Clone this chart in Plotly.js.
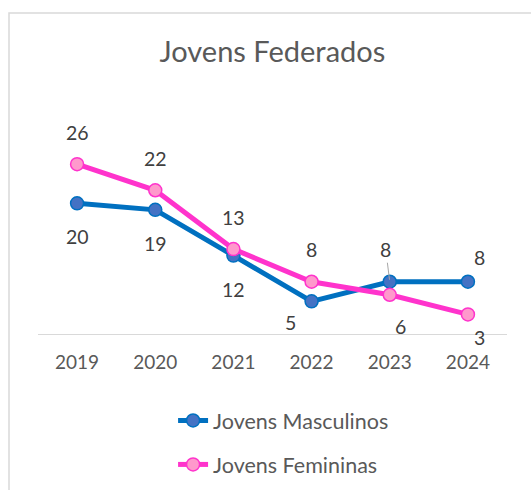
<!DOCTYPE html>
<html>
<head>
<meta charset="utf-8">
<script src="https://cdn.plot.ly/plotly-3.0.1.min.js"></script>
<style>
html,body{margin:0;padding:0;background:#fff;}
#chart{width:531px;height:490px;}
</style>
</head>
<body>
<div id="chart"></div>
<script>
const years = ["2019", "2020", "2021", "2022", "2023", "2024"];
const masculinos = [20, 19, 12, 5, 8, 8];
const femininas = [26, 22, 13, 8, 6, 3];
const seriesNames = ["Jovens Masculinos", "Jovens Femininas"];
const chartTitle = "Jovens Federados";

// label placement offsets (px) relative to each point
const mascOffsets = [[0,-33],[0,-34],[0,-34],[-21,-21],[-4,32],[12,24]];
const femOffsets = [[0,32],[0,32],[0,32],[0,32],[11,-32],[12,-23]];

const FONT = "Lato, 'Open Sans', sans-serif";

const traces = [
  {
    x: years, y: masculinos, name: seriesNames[0], type: "scatter", mode: "lines+markers",
    line: {color: "#0070C0", width: 5},
    marker: {size: 13, color: "#4472C4", line: {color: "#0070C0", width: 1.5}},
    legendgroup: "m", hoverinfo: "skip", cliponaxis: false
  },
  {
    x: years, y: femininas, name: seriesNames[1], type: "scatter", mode: "lines+markers",
    line: {color: "#FF33CC", width: 5},
    marker: {size: 13, color: "#FF99CC", line: {color: "#FF33CC", width: 1.5}},
    legendgroup: "f", hoverinfo: "skip", cliponaxis: false
  }
];

const annotations = [];
years.forEach((yr, i) => {
  const mo = mascOffsets[i];
  const a = {
    x: i, y: masculinos[i], text: String(masculinos[i]),
    font: {family: FONT, size: 19.5, color: "#404040"},
    showarrow: false, xshift: mo[0], yshift: mo[1]
  };
  if (i === 4) {
    Object.assign(a, {showarrow: true, ax: mo[0], ay: -mo[1], xshift: 0, yshift: 0,
      arrowhead: 0, arrowwidth: 1, arrowcolor: "#A6A6A6", standoff: 2});
  }
  annotations.push(a);
  const fo = femOffsets[i];
  annotations.push({
    x: i, y: femininas[i], text: String(femininas[i]),
    font: {family: FONT, size: 19.5, color: "#404040"},
    showarrow: false, xshift: fo[0], yshift: fo[1]
  });
});

const layout = {
  width: 531, height: 490,
  margin: {l: 38, r: 24, t: 138, b: 156},
  paper_bgcolor: "#ffffff", plot_bgcolor: "#ffffff",
  title: {text: chartTitle, font: {family: FONT, size: 29, color: "#595959"},
          x: 0.513, xanchor: "center", y: 1 - 52/490, yanchor: "middle", yref: "container"},
  xaxis: {
    type: "category", range: [-0.5, 5.5], showgrid: false, zeroline: false,
    showline: true, linecolor: "#D9D9D9", linewidth: 1, ticks: "",
    tickfont: {family: FONT, size: 19, color: "#595959"}, ticklabelstandoff: 11,
    fixedrange: true
  },
  yaxis: {range: [0, 30], visible: false, fixedrange: true},
  showlegend: true,
  legend: {
    orientation: "v", x: 0.288, xanchor: "left",
    yref: "container", y: 1 - 400/490, yanchor: "top",
    font: {family: FONT, size: 21.5, color: "#595959"},
    traceorder: "grouped", tracegroupgap: 13, itemwidth: 30,
    bgcolor: "rgba(0,0,0,0)"
  },
  annotations: annotations,
  shapes: [{
    type: "rect", xref: "paper", yref: "paper",
    x0: (9 - 38) / 469, x1: 1.1, y0: -0.9, y1: 1 + (138 - 13) / 196,
    line: {color: "#D9D9D9", width: 1.5}, fillcolor: "rgba(0,0,0,0)", layer: "below"
  }]
};

Plotly.newPlot("chart", traces, layout, {displayModeBar: false, staticPlot: true});
</script>
</body>
</html>
